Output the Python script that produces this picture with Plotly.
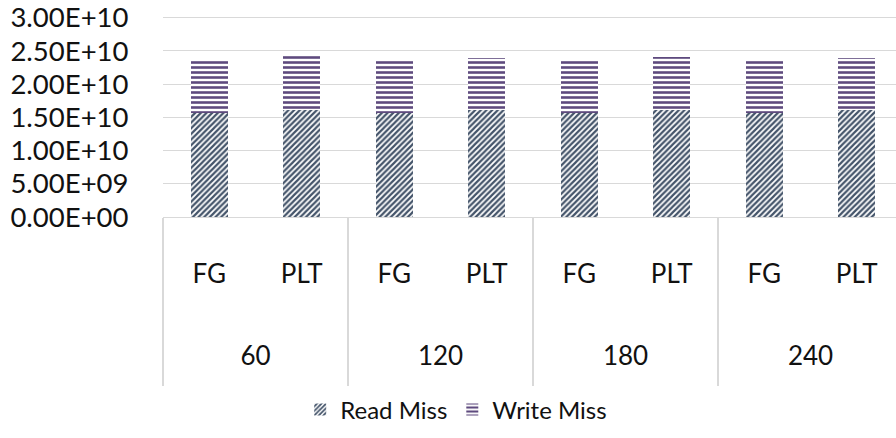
import plotly.graph_objects as go

# Chart data
groups = ["60", "120", "180", "240"]
variants = ["FG", "PLT"]
read_miss = [1.565e10, 1.612e10, 1.565e10, 1.610e10, 1.565e10, 1.610e10, 1.567e10, 1.610e10]
write_miss = [0.813e10, 0.818e10, 0.812e10, 0.780e10, 0.812e10, 0.800e10, 0.818e10, 0.780e10]
y_ticks = [0, 5e9, 1e10, 1.5e10, 2e10, 2.5e10, 3e10]
y_tick_text = ["0.00E+00", "5.00E+09", "1.00E+10", "1.50E+10", "2.00E+10", "2.50E+10", "3.00E+10"]

sub_labels = [v for g in groups for v in variants]
pos = list(range(len(sub_labels)))
n_sub = len(variants)
group_centers = [i * n_sub + (n_sub - 1) / 2 for i in range(len(groups))]
group_edges = [i * n_sub - 0.5 for i in range(len(groups))]

FONT = "Lato"
TEXT = "#111111"
GRID = "#d9d9d9"
READ_C = "#44546A"
WRITE_C = "#5E4A7E"
x_range = [-0.5, 7.424]

fig = go.Figure()
fig.add_trace(go.Bar(
    x=pos, y=read_miss, name="Read Miss",
    marker=dict(color="white", line=dict(width=0),
                pattern=dict(shape="/", fgcolor=READ_C, bgcolor="white",
                             size=4, solidity=0.55, fillmode="replace")),
))
fig.add_trace(go.Bar(
    x=pos, y=write_miss, name="Write Miss",
    marker=dict(color="white", line=dict(width=0),
                pattern=dict(shape="-", fgcolor=WRITE_C, bgcolor="white",
                             size=5, solidity=0.52, fillmode="replace")),
))

fig.update_layout(
    width=896, height=438,
    margin=dict(l=163, r=0, t=12, b=221),
    paper_bgcolor="white", plot_bgcolor="white",
    barmode="stack", bargap=0.6,
    font=dict(family=FONT, color=TEXT, size=26),
    showlegend=True,
    legend=dict(orientation="h", x=0.4, xanchor="center", y=-0.955, yanchor="middle",
                font=dict(family=FONT, size=24, color=TEXT), traceorder="normal",
                itemwidth=30, bgcolor="rgba(0,0,0,0)"),
    yaxis=dict(range=[0, 3.04e10], tickvals=y_ticks, ticktext=y_tick_text,
               showgrid=True, gridcolor=GRID, gridwidth=1, zeroline=False,
               showline=False, ticks="outside", ticklen=28, tickcolor="rgba(0,0,0,0)",
               tickfont=dict(size=27.5), ticklabeloverflow="allow", fixedrange=True),
    # first level labels (FG / PLT)
    xaxis=dict(range=x_range, tickvals=pos, ticktext=sub_labels,
               showgrid=False, zeroline=False, showline=True, linecolor=GRID, linewidth=1,
               ticks="outside", ticklen=34, tickcolor="rgba(0,0,0,0)",
               tickfont=dict(size=26), fixedrange=True),
    # second level labels (60 / 120 / ...)
    xaxis2=dict(range=x_range, overlaying="x", anchor="y", side="bottom",
                tickvals=group_centers, ticktext=groups,
                showgrid=False, zeroline=False, showline=False,
                ticks="outside", ticklen=116, tickcolor="rgba(0,0,0,0)",
                tickfont=dict(size=26), fixedrange=True),
    # group dividers
    xaxis3=dict(range=x_range, overlaying="x", anchor="y", side="bottom",
                tickvals=group_edges, ticktext=[""] * len(group_edges),
                showgrid=False, zeroline=False, showline=False,
                ticks="outside", ticklen=168, tickcolor=GRID, tickwidth=1.5,
                fixedrange=True),
)

# attach invisible traces so the overlay axes are drawn
fig.add_trace(go.Scatter(x=[group_centers[0]], y=[0], xaxis="x2", mode="markers",
                         marker=dict(opacity=0), showlegend=False, hoverinfo="skip"))
fig.add_trace(go.Scatter(x=[group_edges[0]], y=[0], xaxis="x3", mode="markers",
                         marker=dict(opacity=0), showlegend=False, hoverinfo="skip"))

fig.write_html("out.html")
